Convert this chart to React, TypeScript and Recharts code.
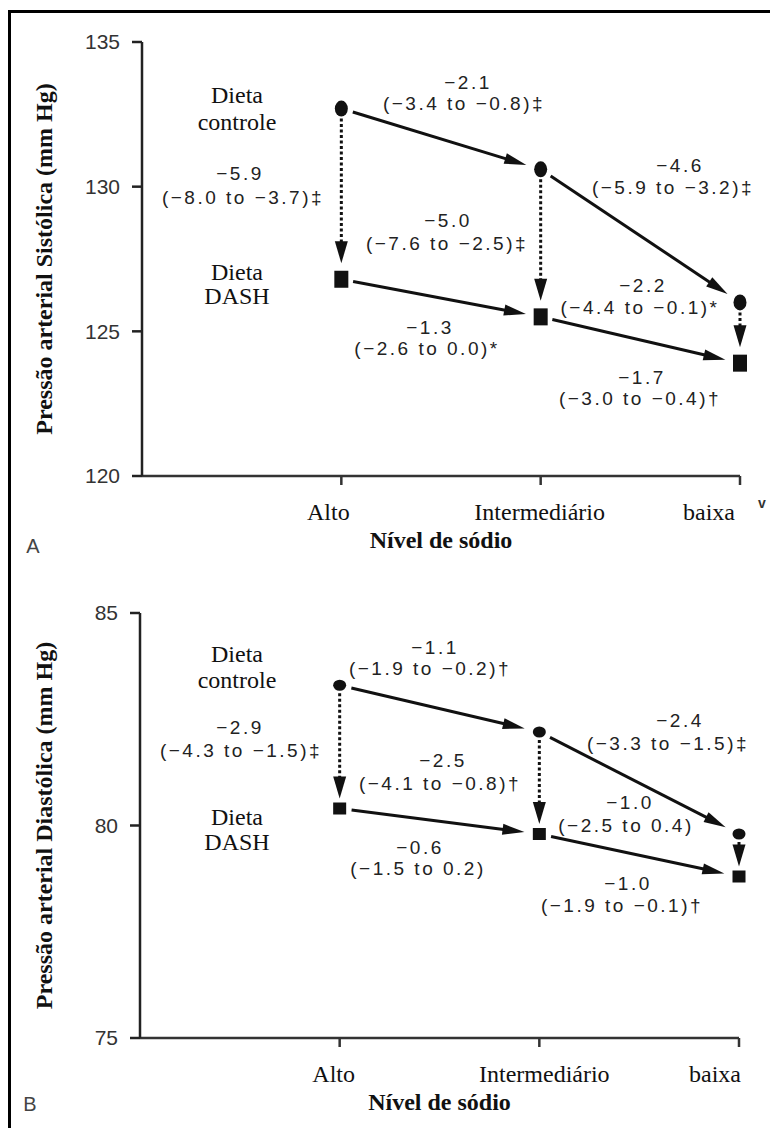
import React from 'react';
import { ComposedChart, Line, XAxis, YAxis, ReferenceLine, Label } from 'recharts';

// níveis de sódio
const categories = ['Alto', 'Intermediário', 'baixa'];

// pressão sistólica (mm Hg)
const sysControl = [132.7, 130.6, 126.0];
const sysDash = [126.8, 125.5, 123.9];
const sysTicks = [120, 125, 130, 135];

// pressão diastólica (mm Hg)
const diaControl = [83.3, 82.2, 79.8];
const diaDash = [80.4, 79.8, 78.8];
const diaTicks = [75, 80, 85];

// diferenças e IC 95%
const sysDietLabels = [['−5.9', '(−8.0 to −3.7)‡'], ['−5.0', '(−7.6 to −2.5)‡'], ['−2.2', '(−4.4 to −0.1)*']];
const sysControlStepLabels = [['−2.1', '(−3.4 to −0.8)‡'], ['−4.6', '(−5.9 to −3.2)‡']];
const sysDashStepLabels = [['−1.3', '(−2.6 to 0.0)*'], ['−1.7', '(−3.0 to −0.4)†']];
const diaDietLabels = [['−2.9', '(−4.3 to −1.5)‡'], ['−2.5', '(−4.1 to −0.8)†'], ['−1.0', '(−2.5 to 0.4)']];
const diaControlStepLabels = [['−1.1', '(−1.9 to −0.2)†'], ['−2.4', '(−3.3 to −1.5)‡']];
const diaDashStepLabels = [['−0.6', '(−1.5 to 0.2)'], ['−1.0', '(−1.9 to −0.1)†']];
const groupLabels = [['Dieta', 'controle'], ['Dieta', 'DASH']];

// posições das anotações (centro linha 1 x,y, linha 2 x,y)
const sysDietPos = [[240, 173, 243, 197], [448, 220, 447, 243], [643, 285, 640, 307]];
const sysControlStepPos = [[468, 82, 464, 103], [680, 165, 673, 187]];
const sysDashStepPos = [[430, 327, 427, 348], [642, 377, 640, 398]];
const diaDietPos = [[240, 727, 241, 750], [443, 760, 440, 783], [630, 802, 626, 825]];
const diaControlStepPos = [[435, 647, 430, 668], [680, 720, 668, 743]];
const diaDashStepPos = [[420, 847, 418, 868], [628, 883, 622, 905]];
const sysGroupPos = [[237, 95, 237, 122], [237, 272, 237, 296]];
const diaGroupPos = [[237, 654, 237, 680], [237, 817, 237, 842]];

const SERIF = '"Liberation Serif", "Times New Roman", serif';
const SANS = '"Liberation Sans", Arial, sans-serif';
const INK = '#111';

const arrow = (startGap: number, endGap: number, dotted: boolean, headLen: number, headW: number) => (p: any) => {
  const { x1, y1, x2, y2 } = p;
  const dx = x2 - x1;
  const dy = y2 - y1;
  const len = Math.hypot(dx, dy) || 1;
  const ux = dx / len;
  const uy = dy / len;
  const sx = x1 + ux * startGap;
  const sy = y1 + uy * startGap;
  const tx = x2 - ux * endGap;
  const ty = y2 - uy * endGap;
  const bx = tx - ux * headLen;
  const by = ty - uy * headLen;
  const px = (-uy * headW) / 2;
  const py = (ux * headW) / 2;
  return (
    <g>
      <line
        x1={sx}
        y1={sy}
        x2={bx + ux}
        y2={by + uy}
        stroke={INK}
        strokeWidth={3}
        strokeDasharray={dotted ? '3 2.5' : undefined}
      />
      <polygon points={`${tx},${ty} ${bx + px},${by + py} ${bx - px},${by - py}`} fill={INK} />
    </g>
  );
};

interface PanelProps {
  top: number;
  height: number;
  margin: { top: number; right: number; left: number; bottom: number };
  yWidth: number;
  domain: [number, number];
  ticks: number[];
  control: number[];
  dash: number[];
  title: string;
  tickDx: number[];
  circle: [number, number];
  square: [number, number];
  vGap: [number, number];
}

function Panel(props: PanelProps) {
  const { top, height, margin, yWidth, domain, ticks, control, dash, title, tickDx, circle, square, vGap } = props;
  const rows = categories.map((c, i) => ({ x: i + 1, name: c, control: control[i], dash: dash[i] }));
  const stepArrow = arrow(12, 15, false, 22, 11);
  const dietArrow = arrow(vGap[0], vGap[1], true, 22, 13);

  const renderCircle = (p: any) => (
    <ellipse key={`c-${p.index}`} cx={p.cx} cy={p.cy} rx={circle[0]} ry={circle[1]} fill={INK} />
  );
  const renderSquare = (p: any) => (
    <rect
      key={`s-${p.index}`}
      x={p.cx - square[0] / 2}
      y={p.cy - square[1] / 2}
      width={square[0]}
      height={square[1]}
      fill={INK}
    />
  );

  const CatTick = (p: any) => {
    const i = p.payload.value - 1;
    return (
      <text x={p.x + tickDx[i]} y={p.y + 35} textAnchor="middle" fontFamily={SERIF} fontSize={24} fill={INK}>
        {categories[i]}
      </text>
    );
  };

  return (
    <div style={{ position: 'absolute', left: 0, top, width: 770, height }}>
      <ComposedChart width={770} height={height} data={rows} margin={margin}>
        <XAxis
          dataKey="x"
          type="number"
          domain={[0, 3]}
          ticks={[1, 2, 3]}
          height={90}
          tickSize={9}
          tickMargin={0}
          tick={CatTick}
          axisLine={{ stroke: '#333', strokeWidth: 2.5 }}
          tickLine={{ stroke: '#333', strokeWidth: 2.5 }}
        >
          <Label
            content={(lp: any) => {
              const vb = lp.viewBox;
              return (
                <text
                  x={vb.x + vb.width / 2}
                  y={vb.y + 72}
                  textAnchor="middle"
                  fontFamily={SERIF}
                  fontWeight="bold"
                  fontSize={24}
                  fill={INK}
                >
                  Nível de sódio
                </text>
              );
            }}
          />
        </XAxis>
        <YAxis
          type="number"
          domain={domain}
          ticks={ticks}
          width={yWidth}
          tickSize={10}
          tickMargin={12}
          tick={{ fontSize: 21, fill: '#333', fontFamily: SANS }}
          axisLine={{ stroke: '#222', strokeWidth: 2.5 }}
          tickLine={{ stroke: '#222', strokeWidth: 2.5 }}
        >
          <Label
            content={(lp: any) => {
              const vb = lp.viewBox;
              const cx = vb.x + 44;
              const cy = vb.y + vb.height / 2;
              return (
                <text
                  x={cx}
                  y={cy}
                  transform={`rotate(-90, ${cx}, ${cy})`}
                  textAnchor="middle"
                  dominantBaseline="central"
                  fontFamily={SERIF}
                  fontWeight="bold"
                  fontSize={24}
                  fill={INK}
                >
                  {title}
                </text>
              );
            }}
          />
        </YAxis>
        {[0, 1].map((i) => (
          <ReferenceLine
            key={`cs-${i}`}
            segment={[{ x: i + 1, y: control[i] }, { x: i + 2, y: control[i + 1] }]}
            shape={stepArrow}
            ifOverflow="visible"
          />
        ))}
        {[0, 1].map((i) => (
          <ReferenceLine
            key={`ds-${i}`}
            segment={[{ x: i + 1, y: dash[i] }, { x: i + 2, y: dash[i + 1] }]}
            shape={stepArrow}
            ifOverflow="visible"
          />
        ))}
        {[0, 1, 2].map((i) => (
          <ReferenceLine
            key={`v-${i}`}
            segment={[{ x: i + 1, y: control[i] }, { x: i + 1, y: dash[i] }]}
            shape={dietArrow}
            ifOverflow="visible"
          />
        ))}
        <Line
          dataKey="control"
          stroke="none"
          strokeWidth={0}
          dot={renderCircle}
          activeDot={false}
          isAnimationActive={false}
          legendType="none"
        />
        <Line
          dataKey="dash"
          stroke="none"
          strokeWidth={0}
          dot={renderSquare}
          activeDot={false}
          isAnimationActive={false}
          legendType="none"
        />
      </ComposedChart>
    </div>
  );
}

function Notes({ labels, pos }: { labels: string[][]; pos: number[][] }) {
  return (
    <>
      {labels.map((l, i) => (
        <g key={i}>
          <text x={pos[i][0]} y={pos[i][1]}>{l[0]}</text>
          <text x={pos[i][2]} y={pos[i][3]}>{l[1]}</text>
        </g>
      ))}
    </>
  );
}

function Groups({ pos }: { pos: number[][] }) {
  return (
    <>
      {groupLabels.map((l, i) => (
        <g key={i}>
          <text x={pos[i][0]} y={pos[i][1]}>{l[0]}</text>
          <text x={pos[i][2]} y={pos[i][3]}>{l[1]}</text>
        </g>
      ))}
    </>
  );
}

export default function App() {
  return (
    <div style={{ position: 'absolute', left: 0, top: 0, width: 770, height: 1128, background: '#fff', overflow: 'hidden' }}>
      <div
        style={{
          position: 'absolute',
          left: 8,
          top: 10,
          width: 762,
          height: 1118,
          borderTop: '3px solid #000',
          borderLeft: '3px solid #000',
          boxSizing: 'border-box',
        }}
      />
      <Panel
        top={0}
        height={575}
        margin={{ top: 42, right: 30, left: 0, bottom: 9 }}
        yWidth={142}
        domain={[120, 135]}
        ticks={sysTicks}
        control={sysControl}
        dash={sysDash}
        title="Pressão arterial Sistólica (mm Hg)"
        tickDx={[-13, -1, -31]}
        circle={[6.5, 8]}
        square={[14, 17]}
        vGap={[10, 16]}
      />
      <Panel
        top={575}
        height={553}
        margin={{ top: 38, right: 31, left: 0, bottom: 0 }}
        yWidth={140}
        domain={[75, 85]}
        ticks={diaTicks}
        control={diaControl}
        dash={diaDash}
        title="Pressão arterial Diastólica (mm Hg)"
        tickDx={[-6, 5, -24]}
        circle={[6.5, 5.5]}
        square={[13, 12]}
        vGap={[8, 10]}
      />
      <svg
        width={770}
        height={1128}
        style={{ position: 'absolute', left: 0, top: 0, pointerEvents: 'none' }}
      >
        <g fontFamily={SANS} fontSize={19} letterSpacing={2.5} fill="#222" textAnchor="middle" dominantBaseline="central">
          <Notes labels={sysDietLabels} pos={sysDietPos} />
          <Notes labels={sysControlStepLabels} pos={sysControlStepPos} />
          <Notes labels={sysDashStepLabels} pos={sysDashStepPos} />
          <Notes labels={diaDietLabels} pos={diaDietPos} />
          <Notes labels={diaControlStepLabels} pos={diaControlStepPos} />
          <Notes labels={diaDashStepLabels} pos={diaDashStepPos} />
        </g>
        <g fontFamily={SERIF} fontSize={24} fill={INK} textAnchor="middle" dominantBaseline="central">
          <Groups pos={sysGroupPos} />
          <Groups pos={diaGroupPos} />
        </g>
        <g fontFamily={SANS} fontSize={20} fill="#444" textAnchor="middle" dominantBaseline="central">
          <text x={33} y={546}>A</text>
          <text x={30} y={1104}>B</text>
        </g>
        <text x={762} y={503} fontFamily={SANS} fontSize={14} fontWeight="bold" fill="#333" textAnchor="middle" dominantBaseline="central">
          v
        </text>
      </svg>
    </div>
  );
}
